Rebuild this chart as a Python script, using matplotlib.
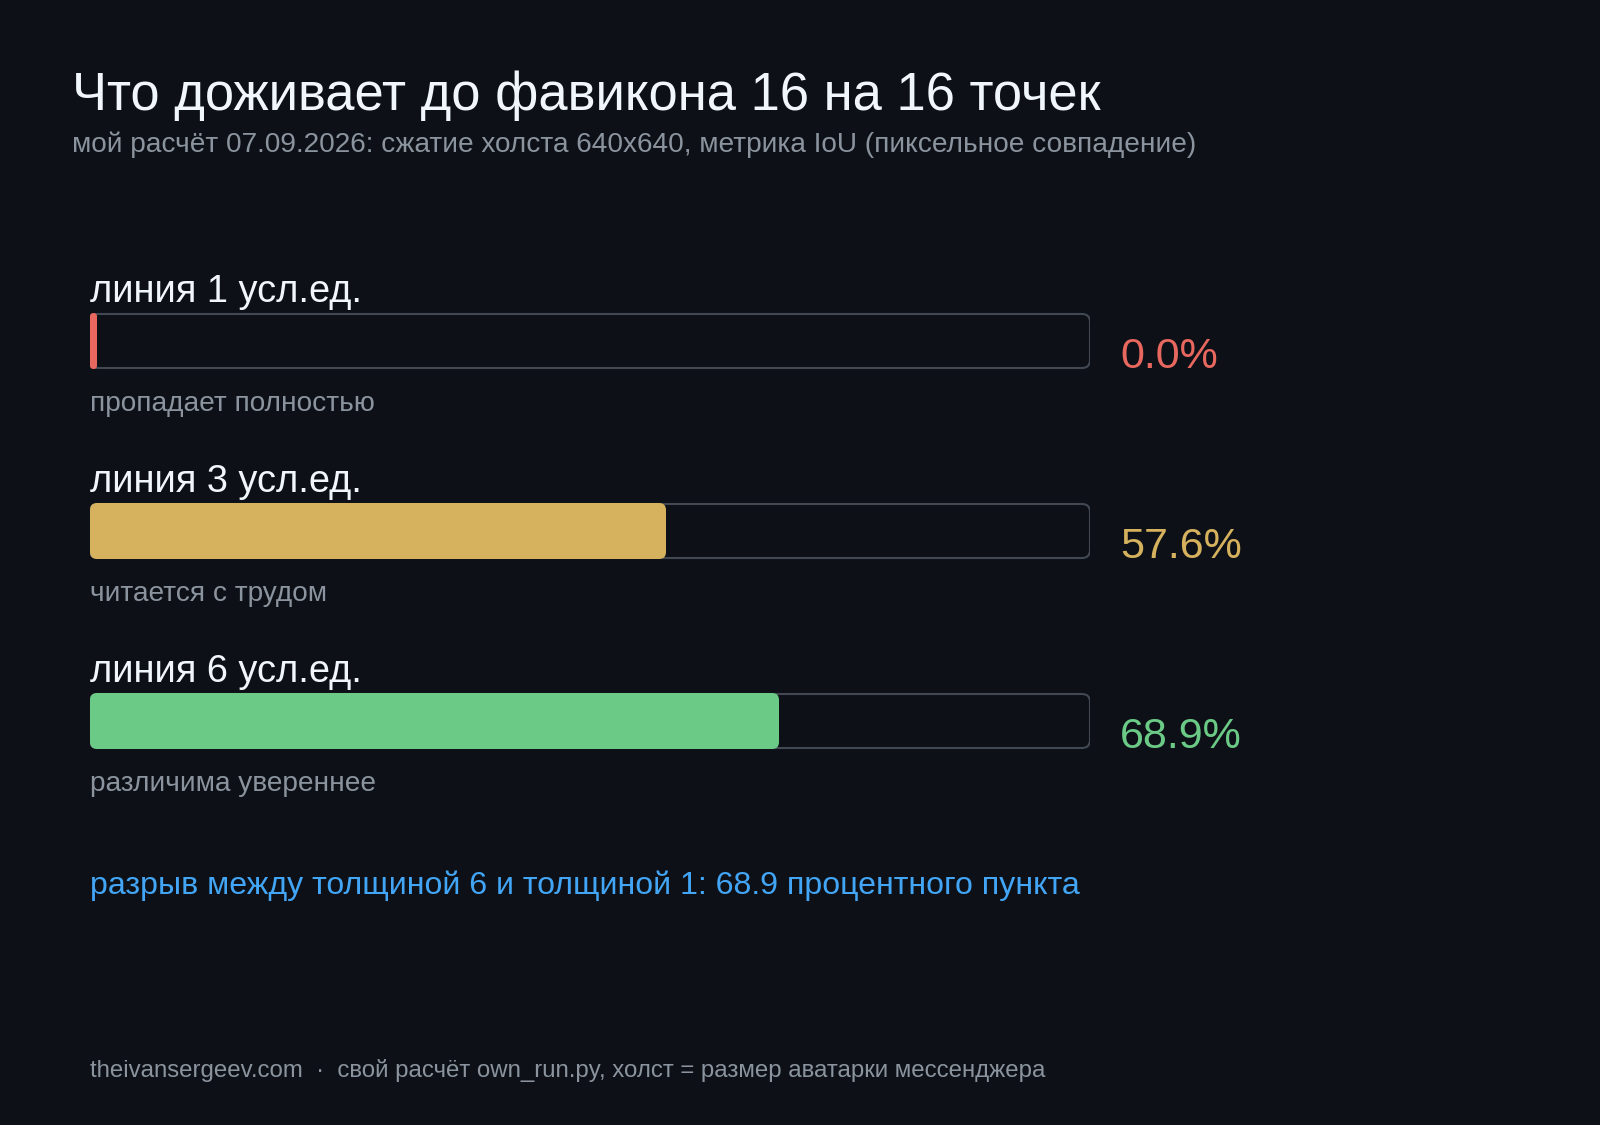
import matplotlib
matplotlib.use("Agg")
import matplotlib.pyplot as plt
from matplotlib.patches import FancyBboxPatch
from matplotlib import transforms

# ---- data ----
labels = ["линия 1 усл.ед.", "линия 3 усл.ед.", "линия 6 усл.ед."]
values = [0.0, 57.6, 68.9]
notes = ["пропадает полностью", "читается с трудом", "различима увереннее"]
bar_colors = ["#e8685f", "#d6b25e", "#6bcb86"]
title = "Что доживает до фавикона 16 на 16 точек"
subtitle = "мой расчёт 07.09.2026: сжатие холста 640x640, метрика IoU (пиксельное совпадение)"
gap_note = "разрыв между толщиной 6 и толщиной 1: 68.9 процентного пункта"
footer = "theivansergeev.com  ·  свой расчёт own_run.py, холст = размер аватарки мессенджера"

BG = "#0d1117"
FONT = ["Liberation Sans", "DejaVu Sans"]
plt.rcParams["font.family"] = FONT

W, H = 1600, 1125
fig = plt.figure(figsize=(W / 100, H / 100), dpi=100, facecolor=BG)

# overlay axes in pixel coordinates for headings
ov = fig.add_axes([0, 0, 1, 1])
ov.set_xlim(0, W)
ov.set_ylim(H, 0)
ov.axis("off")
ov.set_facecolor(BG)

ov.text(72, 110, title, fontsize=37.8, color="#f0f6fc", va="baseline", ha="left")
ov.text(72, 152, subtitle, fontsize=20.2, color="#8b949e", va="baseline", ha="left")
ov.text(90, 894, gap_note, fontsize=23.1, color="#42a5f5", va="baseline", ha="left")
ov.text(90, 1077, footer, fontsize=17.3, color="#8b949e", va="baseline", ha="left")

# bar axes: x 90..1090 px, rows 190 px apart centred at 341, 531, 721
top_px, bot_px = 246, 816
bx = fig.add_axes([90 / W, 1 - bot_px / H, 1000 / W, (bot_px - top_px) / H])
bx.set_xlim(0, 100)
bx.set_ylim(len(values) - 0.5, -0.5)
bx.axis("off")
bx.patch.set_alpha(0)

aspect = 10 / 190.0
track_h = 54 / 190.0
bar_h = 56 / 190.0

for i, (lab, v, note, c) in enumerate(zip(labels, values, notes, bar_colors)):
    track = FancyBboxPatch((0, i - track_h / 2), 100, track_h,
                           boxstyle="round,pad=0,rounding_size=0.8",
                           mutation_aspect=aspect, facecolor=BG,
                           edgecolor="#414852", linewidth=1.5, zorder=2)
    bx.add_patch(track)
    w = max(v, 0.7)
    r = min(0.7, w / 2)
    bar = FancyBboxPatch((0, i - bar_h / 2), w, bar_h,
                         boxstyle=f"round,pad=0,rounding_size={r}",
                         mutation_aspect=aspect, facecolor=c,
                         edgecolor="none", linewidth=0, zorder=3)
    bx.add_patch(bar)

    t_up = transforms.offset_copy(bx.transData, fig=fig, x=0, y=39, units="dots")
    bx.text(0, i, lab, transform=t_up, fontsize=27.4, color="#f0f6fc",
            va="baseline", ha="left", clip_on=False)
    t_dn = transforms.offset_copy(bx.transData, fig=fig, x=0, y=-70, units="dots")
    bx.text(0, i, note, transform=t_dn, fontsize=20.2, color="#8b949e",
            va="baseline", ha="left", clip_on=False)
    t_val = transforms.offset_copy(bx.transData, fig=fig, x=30, y=-27, units="dots")
    bx.text(100, i, f"{v:.1f}%", transform=t_val, fontsize=31, color=c,
            va="baseline", ha="left", clip_on=False)

fig.savefig("out.png", dpi=100, facecolor=BG)
